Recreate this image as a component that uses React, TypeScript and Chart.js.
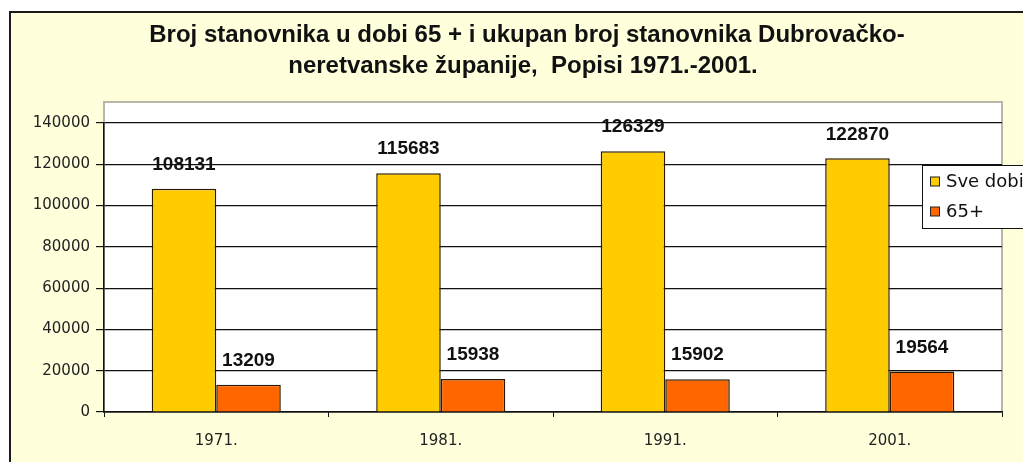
import React, { useEffect, useRef } from "react";
import { Chart, registerables } from "chart.js";

Chart.register(...registerables);

const categories = ["1971.", "1981.", "1991.", "2001."];
const allAges = [108131, 115683, 126329, 122870];
const age65 = [13209, 15938, 15902, 19564];
const seriesLabels = ["Sve dobi", "65+"];
const seriesColors = ["#FFCC00", "#FF6600"];
const titleLines = [
  "Broj stanovnika u dobi 65 + i ukupan broj stanovnika Dubrovačko-",
  "neretvanske županije,  Popisi 1971.-2001.",
];
const yMin = 0;
const yMax = 140000;
const yStep = 20000;

const W = 1050;
const H = 472;

const framePlugin = {
  id: "frame",
  beforeDraw(chart: any) {
    const { ctx, chartArea } = chart;
    ctx.save();
    ctx.fillStyle = "#ffffff";
    ctx.fillRect(0, 0, W, H);
    ctx.fillStyle = "#FFFFDC";
    ctx.fillRect(10, 12, W - 14, H - 16);
    ctx.strokeStyle = "#1a1a1a";
    ctx.lineWidth = 2;
    ctx.strokeRect(10, 12, W - 14, H - 16);
    const top = chartArea.top - 21;
    ctx.fillStyle = "#ffffff";
    ctx.fillRect(chartArea.left, top, chartArea.right - chartArea.left, chartArea.bottom - top);
    ctx.strokeStyle = "#b8b8a8";
    ctx.lineWidth = 2;
    ctx.strokeRect(chartArea.left, top, chartArea.right - chartArea.left, chartArea.bottom - top);
    ctx.restore();
  },
};

const titlePlugin = {
  id: "customTitle",
  afterDraw(chart: any) {
    const { ctx } = chart;
    ctx.save();
    ctx.fillStyle = "#111";
    ctx.font = "bold 24px 'Liberation Sans', Arial, sans-serif";
    ctx.textAlign = "center";
    ctx.textBaseline = "alphabetic";
    ctx.fillText(titleLines[0], 527, 42);
    ctx.fillText(titleLines[1], 523, 73);
    ctx.restore();
  },
};

const labelPlugin = {
  id: "barLabels",
  afterDatasetsDraw(chart: any) {
    const { ctx } = chart;
    ctx.save();
    ctx.fillStyle = "#111";
    ctx.font = "bold 19px 'Liberation Sans', Arial, sans-serif";
    ctx.textAlign = "center";
    ctx.textBaseline = "middle";
    chart.data.datasets.forEach((ds: any, i: number) => {
      const meta = chart.getDatasetMeta(i);
      meta.data.forEach((el: any, j: number) => {
        ctx.fillText(String(ds.data[j]), el.x, el.y - 24);
      });
    });
    ctx.restore();
  },
};

const legendPlugin = {
  id: "customLegend",
  afterDraw(chart: any) {
    const { ctx } = chart;
    ctx.save();
    const x = 922.5;
    const y = 165.5;
    ctx.fillStyle = "#ffffff";
    ctx.fillRect(x, y, 140, 63);
    ctx.strokeStyle = "#111";
    ctx.lineWidth = 1;
    ctx.strokeRect(x, y, 140, 63);
    ctx.font = "18px 'DejaVu Sans', sans-serif";
    ctx.textBaseline = "middle";
    ctx.textAlign = "left";
    chart.data.datasets.forEach((ds: any, i: number) => {
      const cy = 182 + i * 30;
      ctx.fillStyle = ds.backgroundColor;
      ctx.fillRect(930.5, cy - 5, 9, 9);
      ctx.strokeStyle = "#222";
      ctx.strokeRect(930.5, cy - 5, 9, 9);
      ctx.fillStyle = "#111";
      ctx.fillText(ds.label, 946, cy);
    });
    ctx.restore();
  },
};

export default function App() {
  const ref = useRef<HTMLCanvasElement | null>(null);
  useEffect(() => {
    if (!ref.current) return;
    const chart = new Chart(ref.current, {
      type: "bar",
      data: {
        labels: categories,
        datasets: [
          {
            label: seriesLabels[0],
            data: allAges,
            backgroundColor: seriesColors[0],
            borderColor: "#2a1a00",
            borderWidth: 1.5,
            categoryPercentage: 0.575,
            barPercentage: 1,
          },
          {
            label: seriesLabels[1],
            data: age65,
            backgroundColor: seriesColors[1],
            borderColor: "#2a1a00",
            borderWidth: 1.5,
            categoryPercentage: 0.575,
            barPercentage: 1,
          },
        ],
      },
      options: {
        responsive: false,
        animation: false,
        devicePixelRatio: 1,
        layout: { padding: { top: 123, right: 48, left: 0, bottom: 0 } },
        plugins: {
          legend: { display: false },
          title: { display: false },
          tooltip: { enabled: false },
        },
        scales: {
          x: {
            grid: { drawOnChartArea: false, offset: true, tickLength: 5, color: "#111" },
            border: { color: "#111", width: 1.5 },
            ticks: {
              padding: 15,
              color: "#222",
              font: { family: "'DejaVu Sans', sans-serif", size: 15 },
            },
            afterFit(s: any) {
              s.height = H - 412;
            },
          },
          y: {
            min: yMin,
            max: yMax,
            ticks: {
              stepSize: yStep,
              padding: 6,
              color: "#222",
              font: { family: "'DejaVu Sans', sans-serif", size: 15 },
              callback: (v: any) => String(v),
            },
            grid: { color: "#111", tickLength: 8, lineWidth: 1.2 },
            border: { color: "#111", width: 1.5 },
            afterFit(s: any) {
              s.width = 104;
            },
          },
        },
      },
      plugins: [framePlugin, labelPlugin, titlePlugin, legendPlugin],
    });
    return () => chart.destroy();
  }, []);
  return (
    <div
      style={{
        position: "absolute",
        left: 0,
        top: 0,
        width: 1023,
        height: 462,
        overflow: "hidden",
        background: "#fff",
      }}
    >
      <canvas ref={ref} width={W} height={H} style={{ display: "block", width: W, height: H }} />
    </div>
  );
}
